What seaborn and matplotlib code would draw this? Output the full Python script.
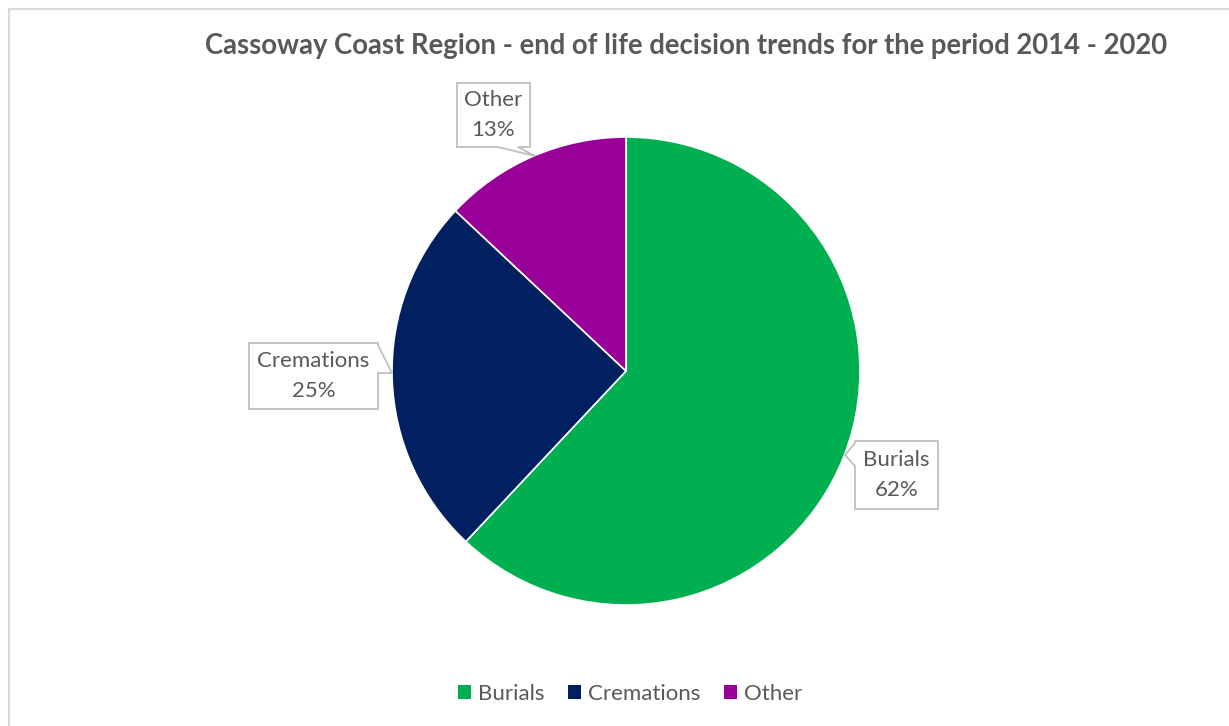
import matplotlib
matplotlib.use("Agg")
import matplotlib.pyplot as plt
import seaborn as sns
import numpy as np
from matplotlib.patches import Polygon, Patch, Rectangle

categories = ["Burials", "Cremations", "Other"]
values = [62, 25, 13]
colors = ["#00B050", "#002060", "#990099"]
title = "Cassoway Coast Region - end of life decision trends for the period 2014 - 2020"

sns.set_theme(style="white")
plt.rcParams['font.family'] = ['Lato', 'DejaVu Sans']
palette = sns.color_palette(colors)

W, H = 1229, 726
fig = plt.figure(figsize=(W / 100, H / 100), dpi=100)
ax = fig.add_axes([0, 0, 1, 1])
ax.set_xlim(0, W)
ax.set_ylim(0, H)
ax.set_aspect("equal")
ax.axis("off")

def py(y):
    return H - y

# chart border
ax.add_patch(Rectangle((9, py(1000)), 1400, 1000 - 9, fill=False,
                       edgecolor="#D9D9D9", linewidth=1.5))

cx, cy, r = 626, 371, 234
wedges, _ = ax.pie(values, colors=palette, startangle=90, counterclock=False,
                   center=(cx, py(cy)), radius=r,
                   wedgeprops=dict(edgecolor="white", linewidth=1.2))
ax.set_xlim(0, W)
ax.set_ylim(0, H)
ax.axis("off")

text_color = "#595959"
box_color = "#BFBFBF"

callouts = {
    "Other": dict(box=(457, 83, 530, 147), side="bottom", base=(498, 518), tip=(535, 156)),
    "Cremations": dict(box=(249, 343, 378, 409), side="right", base=(345, 373), tip=(392, 373)),
    "Burials": dict(box=(855, 441, 938, 509), side="left", base=(443, 466), tip=(845, 455)),
}

for cat, val in zip(categories, values):
    c = callouts[cat]
    x0, y0, x1, y1 = c["box"]
    b0, b1 = c["base"]
    tx, ty = c["tip"]
    if c["side"] == "bottom":
        pts = [(x0, y0), (x1, y0), (x1, y1), (b1, y1), (tx, ty), (b0, y1), (x0, y1)]
    elif c["side"] == "right":
        pts = [(x0, y0), (x1, y0), (x1, b0), (tx, ty), (x1, b1), (x1, y1), (x0, y1)]
    else:
        pts = [(x0, y0), (x1, y0), (x1, y1), (x0, y1), (x0, b1), (tx, ty), (x0, b0)]
    pts = [(p[0], py(p[1])) for p in pts]
    ax.add_patch(Polygon(pts, closed=True, facecolor="white", edgecolor=box_color,
                         linewidth=1.3, zorder=5))
    ax.text((x0 + x1) / 2, py((y0 + y1) / 2), f"{cat}\n{val}%", ha="center", va="center",
            fontsize=16, color=text_color, linespacing=1.6, zorder=6)

ax.text(686, py(46), title, ha="center", va="center", fontsize=19.8,
        fontweight="bold", color=text_color)

handles = [Patch(facecolor=col, edgecolor="none") for col in palette]
leg = fig.legend(handles, categories, loc="center", bbox_to_anchor=(630 / W, 1 - 694 / H),
                 ncol=3, frameon=False, fontsize=16, handlelength=0.6, handleheight=0.6,
                 handletextpad=0.3, columnspacing=1.05)
for t in leg.get_texts():
    t.set_color(text_color)

fig.savefig("out.png", dpi=100)
